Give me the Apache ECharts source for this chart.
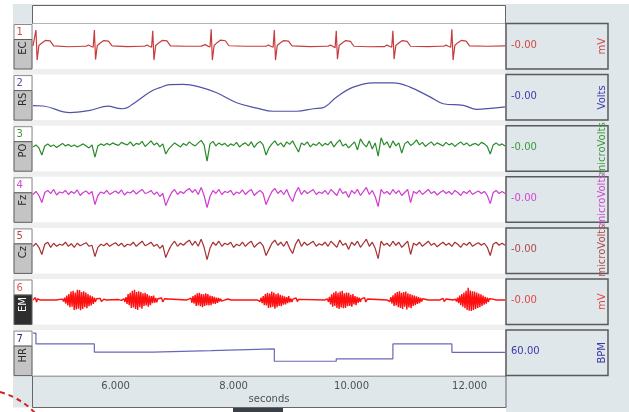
<!DOCTYPE html>
<html><head><meta charset="utf-8">
<script src="https://cdn.jsdelivr.net/npm/echarts@6/dist/echarts.min.js"></script>
<style>html,body{margin:0;padding:0;background:#fff}#c{width:629px;height:412px}</style>
</head><body><div id="c"></div>
<script>
// ---------------- data ----------------
const xMin = 4.6, xMax = 12.6;
const tickValues = [6, 8, 10, 12];
const axisName = 'seconds';
const channelNums = ['1','2','3','4','5','6','7'];
const channelNames = ['EC','RS','PO','Fz','Cz','EM','HR'];
const readouts = ['-0.00','-0.00','-0.00','-0.00','-0.00','-0.00','60.00'];
const units = ['mV','Volts','microVolts','microVolts','microVolts','mV','BPM'];

// ECG (mV)
const ecgT = [4.60,4.63,4.65,4.67,4.70,4.75,4.81,4.89,4.95,5.20,5.45,
5.50,5.54,5.58,5.62,5.64,5.66,5.69,5.74,5.80,5.88,5.94,6.20,6.45,
6.49,6.53,6.57,6.61,6.63,6.65,6.68,6.73,6.79,6.87,6.93,7.20,7.45,
7.48,7.52,7.56,7.60,7.62,7.64,7.67,7.72,7.78,7.86,7.92,8.20,8.50,
8.55,8.59,8.63,8.67,8.69,8.71,8.74,8.79,8.85,8.93,8.99,9.30,9.55,
9.60,9.64,9.68,9.72,9.74,9.76,9.79,9.84,9.90,9.98,10.04,10.30,10.50,
10.56,10.60,10.64,10.68,10.70,10.72,10.75,10.80,10.86,10.94,11.00,11.30,11.50,
11.56,11.60,11.64,11.68,11.70,11.72,11.75,11.80,11.86,11.94,12.00,12.30,12.60];
const ecgV = [0.02,-0.05,1.0,-0.85,0.05,0.2,0.36,0.33,0.02,-0.03,0.0,
0,0.08,0,-0.06,1.0,-0.82,0.05,0.2,0.35,0.32,0.02,-0.02,0.0,
0,0.08,0,-0.06,0.95,-0.85,0.05,0.2,0.36,0.33,0.02,0.0,0.01,
0.01,0.1,0.01,-0.05,1.05,-0.85,0.05,0.22,0.38,0.34,0.03,0.0,0.0,
0,0.08,0,-0.06,1.0,-0.85,0.05,0.2,0.35,0.32,0.02,-0.02,0,
0,0.07,0,-0.1,0.95,-0.8,0.05,0.2,0.35,0.3,0.0,-0.03,-0.02,
-0.02,0.07,0,-0.06,0.95,-0.8,0.05,0.2,0.35,0.3,0.0,-0.02,0,
0,0.07,0,-0.06,1.05,-0.85,0.05,0.22,0.36,0.32,0.02,0.0,0.02];

// Respiration (Volts)
const rspT = [4.6,4.775,5.227,5.566,5.876,6.019,6.131,6.300,6.583,6.753,6.922,7.147,7.431,7.714,8.053,8.392,8.673,9.069,9.351,9.520,9.747,10.029,10.368,10.707,10.990,11.329,11.554,11.893,12.120,12.402,12.6];
const rspV = [-0.36,-0.38,-0.67,-0.57,-0.39,-0.47,-0.50,-0.28,0.24,0.43,0.56,0.57,0.45,0.20,-0.24,-0.47,-0.61,-0.61,-0.50,-0.45,0.02,0.45,0.64,0.64,0.45,0.02,-0.28,-0.35,-0.53,-0.47,-0.42];

// EEG channels (microVolts), sampled every 0.05 s from 4.6 s
const eegStart = 4.6, eegStep = 0.05;
const poV = [8,12,6,-8,10,14,9,12,7,11,15,10,13,9,12,8,11,14,10,6,
12,-12,10,14,11,15,12,16,13,11,17,14,12,18,10,15,13,19,9,14,
20,12,16,8,14,-6,4,10,16,12,8,15,11,18,13,10,16,21,12,-20,
14,19,10,16,12,15,9,14,11,17,8,13,16,10,18,7,15,19,12,-8,
6,14,20,11,16,8,18,13,20,9,-2,16,12,18,8,14,11,17,10,15,
12,19,8,16,22,10,14,6,12,18,2,24,14,8,20,4,16,-10,26,12,
18,6,20,10,16,-4,14,19,11,15,22,12,17,9,14,18,11,16,13,10,
17,12,15,9,14,18,12,16,10,13,15,11,17,14,9,-6,12,16,11,14,10];
const fzV = [10,16,8,-6,14,18,12,20,9,15,13,18,10,16,12,19,8,14,17,11,
16,-10,8,15,12,18,10,14,17,12,19,9,15,13,18,11,16,20,12,14,
18,10,15,6,12,-12,2,14,20,10,16,12,18,22,14,20,10,24,8,-16,
6,18,12,20,10,16,14,18,9,15,12,19,10,16,20,8,14,18,12,-10,
4,16,22,12,18,10,20,6,-4,14,24,10,18,12,16,20,10,15,12,18,
10,20,14,8,22,12,16,4,18,12,20,8,16,24,10,18,6,-14,20,12,
16,10,20,12,18,8,14,20,-6,16,12,18,10,15,20,12,16,9,14,18,
12,16,10,18,14,8,16,12,18,10,14,17,12,16,8,-8,14,18,12,16,12];
const czV = [12,18,10,-4,16,20,10,18,12,16,14,20,12,17,10,18,13,16,19,12,
14,-8,10,16,13,18,12,16,19,13,18,11,16,14,20,12,17,22,13,16,
20,12,16,8,14,-10,4,15,22,12,18,14,20,24,14,22,12,26,10,-14,
8,20,14,22,12,18,15,20,10,16,13,20,12,18,22,10,16,20,13,-6,
6,18,24,14,20,12,22,8,-2,16,26,12,20,14,18,22,12,17,14,20,
12,22,16,10,24,14,18,6,20,14,22,10,18,26,12,20,8,-12,22,14,
18,12,22,14,20,10,16,22,-4,18,14,20,12,17,22,14,18,11,16,20,
14,18,12,20,16,10,18,14,20,12,16,19,14,18,10,-6,16,20,14,18,14];

// EMG (mV): quiet baseline points + bursts sampled every 0.018 s
const emgBaseT = [4.6,4.64,4.66,4.68,4.72,5.0,5.05, 5.74,5.76,5.80,5.84,6.05,6.10, 6.78,6.80,6.83,6.86,7.2,
7.9,7.93,7.96,8.4, 9.06,9.08,9.1,9.13,9.55, 10.22,10.24,10.27,10.3,10.6, 11.3,11.5,11.55,11.57,11.6,11.63,11.72, 12.4,12.45,12.6];
const emgBaseV = [0,0.12,-0.1,0.06,0,0,0.03, 0.08,-0.08,0.04,0,0.02,-0.02, 0.1,-0.1,0.06,0,0,
0.05,-0.05,0,0, 0.1,-0.08,0.03,0,0, 0.12,-0.1,0.05,0,0, 0,0,0.08,-0.08,0.05,0,0, 0.04,0,0];
const emgBurstStart = [5.10,6.14,7.24,8.43,9.59,10.63,11.76];
const emgBurstStep = 0.018;
const emgBursts = [
 [0.04,-0.08,0.12,-0.18,0.22,-0.28,0.3,-0.36,0.42,-0.34,0.46,-0.5,0.38,-0.48,0.52,-0.44,0.5,-0.52,0.4,-0.46,0.44,-0.36,0.38,-0.42,0.3,-0.32,0.24,-0.28,0.18,-0.2,0.12,-0.1,0.06,-0.04],
 [0.06,-0.1,0.14,-0.2,0.3,-0.26,0.36,-0.4,0.46,-0.38,0.52,-0.46,0.4,-0.5,0.44,-0.36,0.4,-0.44,0.34,-0.3,0.36,-0.28,0.3,-0.34,0.22,-0.26,0.2,-0.16,0.22,-0.14,0.1,-0.12,0.06,-0.04],
 [0.04,-0.06,0.1,-0.14,0.2,-0.18,0.26,-0.3,0.34,-0.28,0.36,-0.32,0.3,-0.36,0.28,-0.3,0.34,-0.26,0.3,-0.28,0.22,-0.26,0.2,-0.18,0.16,-0.2,0.12,-0.14,0.1,-0.08,0.06,-0.06,0.04,-0.02],
 [0.04,-0.08,0.12,-0.16,0.2,-0.26,0.3,-0.28,0.36,-0.4,0.32,-0.38,0.42,-0.34,0.38,-0.44,0.3,-0.36,0.34,-0.3,0.26,-0.32,0.22,-0.24,0.18,-0.22,0.14,-0.16,0.2,-0.12,0.08,-0.1,0.04,-0.04],
 [0.06,-0.1,0.16,-0.22,0.28,-0.34,0.38,-0.3,0.44,-0.4,0.36,-0.46,0.42,-0.38,0.46,-0.42,0.34,-0.4,0.38,-0.32,0.36,-0.3,0.26,-0.34,0.3,-0.22,0.2,-0.26,0.16,-0.14,0.12,-0.1,0.06,-0.04],
 [0.04,-0.08,0.14,-0.18,0.24,-0.3,0.34,-0.28,0.4,-0.36,0.44,-0.4,0.36,-0.46,0.4,-0.34,0.42,-0.48,0.34,-0.38,0.3,-0.42,0.26,-0.3,0.22,-0.26,0.18,-0.2,0.14,-0.16,0.1,-0.08,0.06,-0.04],
 [0.04,-0.08,0.12,-0.16,0.22,-0.26,0.3,-0.34,0.38,-0.42,0.46,-0.5,0.62,-0.54,0.48,-0.56,0.44,-0.5,0.42,-0.46,0.38,-0.4,0.32,-0.36,0.28,-0.3,0.22,-0.24,0.16,-0.18,0.12,-0.1,0.06,-0.04]
];

// Heart rate (BPM), step changes
const hrT = [4.6,4.65,5.64,6.63,7.62,8.69,9.74,10.70,11.70,12.6];
const hrV = [67.1,63.1,60.1,60.6,61.3,56.7,57.6,63.1,60.0,60.0];

// ---------------- build ----------------
const zip = (t, v) => t.map((x, i) => [x, v[i]]);
const sampled = (v) => v.map((y, i) => [eegStart + i * eegStep, y]);
let emgData = zip(emgBaseT, emgBaseV);
emgBursts.forEach((b, k) => b.forEach((y, i) => emgData.push([emgBurstStart[k] + i * emgBurstStep, y])));
emgData.sort((a, b) => a[0] - b[0]);

const rowTop = [23.5, 74.6, 125.7, 176.8, 227.9, 279, 330.1];
const rowH = 45.5;
const yRanges = [[-1.4,1.4],[-1,1],[-40,50],[-45,45],[-41,48],[-1.24,1.06],[51.4,68.2]];
const lineColors = ['#c83c3c','#5252a8','#2a8a2a','#d03ad0','#a63030','#ff1010','#6868b8'];
const textColors = ['#d04848','#3c3cb0','#3c9a3c','#d048d0','#b04a4a','#e04848','#3a3aa6'];
const numColors  = ['#d04848','#5050b0','#3c9a3c','#d048d0','#b04a4a','#e05a5a','#303070'];
const FONT = '"DejaVu Sans", sans-serif';

const seriesData = [zip(ecgT, ecgV), zip(rspT, rspV), sampled(poV), sampled(fzV), sampled(czV), emgData, zip(hrT, hrV)];

const grids = [], xAxes = [], yAxes = [], series = [];
for (let i = 0; i < 7; i++) {
  grids.push({left: 33, top: rowTop[i], width: 472, height: rowH, show: true, backgroundColor: '#ffffff', borderWidth: 0});
  const last = i === 6;
  xAxes.push({
    type: 'value', gridIndex: i, min: xMin, max: xMax, show: last,
    axisLine: {show: false}, axisTick: {show: false}, splitLine: {show: false},
    axisLabel: {show: last, customValues: tickValues, margin: 6, color: '#505050', fontSize: 10, fontFamily: FONT,
      formatter: v => v.toFixed(3)},
    name: last ? axisName : '', nameLocation: 'middle', nameGap: 19,
    nameTextStyle: {color: '#505050', fontSize: 10, fontFamily: FONT}
  });
  yAxes.push({type: 'value', gridIndex: i, min: yRanges[i][0], max: yRanges[i][1], show: false});
  series.push({
    type: 'line', xAxisIndex: i, yAxisIndex: i, data: seriesData[i], showSymbol: false, symbol: 'none',
    smooth: i === 1 ? 0.4 : false, step: i === 6 ? 'end' : false, animation: false,
    lineStyle: {color: lineColors[i], width: i === 5 ? 1.4 : 1.2}
  });
}

const g = [];
g.push({type: 'rect', z: -30, shape: {x: 13, y: 4, width: 616, height: 408}, style: {fill: '#dfe7ea'}});
g.push({type: 'rect', z: -29, shape: {x: 0, y: 407.5, width: 506, height: 5}, style: {fill: '#ffffff'}});
g.push({type: 'rect', z: -28, shape: {x: 13, y: 23.5, width: 493, height: 352.5}, style: {fill: '#efefef'}});
g.push({type: 'rect', z: -5, shape: {x: 32.5, y: 5.5, width: 473, height: 18}, style: {fill: '#ffffff', stroke: '#666', lineWidth: 1}});
g.push({type: 'rect', z: -5, shape: {x: 32.5, y: 376, width: 473.5, height: 31.5}, style: {fill: '#dfe7ea', stroke: '#666', lineWidth: 1}});
g.push({type: 'rect', z: 5, shape: {x: 233, y: 408, width: 50, height: 5}, style: {fill: '#3b4046'}});
g.push({type: 'bezierCurve', z: 5, shape: {x1: 0, y1: 392, cpx1: 14, cpy1: 396, cpx2: 26, cpy2: 403, x2: 36, y2: 414},
  style: {stroke: '#d42222', lineWidth: 2, lineDash: [5, 4], fill: null}});

for (let i = 0; i < 7; i++) {
  const t = rowTop[i];
  g.push({type: 'rect', z: -5, shape: {x: 506, y: t, width: 102, height: rowH}, style: {fill: '#dfe7ea', stroke: '#5a5a5a', lineWidth: 1.5}});
  g.push({type: 'text', z: 5, x: 511, y: t + rowH / 2 - 1, style: {text: readouts[i], fill: textColors[i], font: '10px ' + FONT, align: 'left', verticalAlign: 'middle'}});
  g.push({type: 'text', z: 5, x: 602, y: t + rowH / 2, rotation: Math.PI / 2, style: {text: units[i], fill: textColors[i], font: '10px ' + FONT, align: 'center', verticalAlign: 'middle'}});
  g.push({type: 'rect', z: -5, shape: {x: 14, y: t + 1, width: 18, height: 15}, style: {fill: '#ffffff', stroke: '#8a8a8a', lineWidth: 1}});
  g.push({type: 'rect', z: -5, shape: {x: 14, y: t + 16, width: 18, height: rowH - 16}, style: {fill: i === 5 ? '#2e2e2e' : '#c4c4c4', stroke: '#5e5e5e', lineWidth: 1}});
  g.push({type: 'text', z: 5, x: 16.5, y: t + 9, style: {text: channelNums[i], fill: numColors[i], font: '10px ' + FONT, align: 'left', verticalAlign: 'middle'}});
  g.push({type: 'text', z: 5, x: 23, y: t + 18, rotation: Math.PI / 2, style: {text: channelNames[i], fill: i === 5 ? '#ffffff' : '#2a2a2a', font: '10px ' + FONT, align: 'right', verticalAlign: 'middle'}});
}

const chart = echarts.init(document.getElementById('c'), null, {renderer: 'canvas'});
chart.setOption({
  backgroundColor: '#ffffff',
  animation: false,
  grid: grids, xAxis: xAxes, yAxis: yAxes, series: series,
  graphic: {elements: g}
});
</script></body></html>
